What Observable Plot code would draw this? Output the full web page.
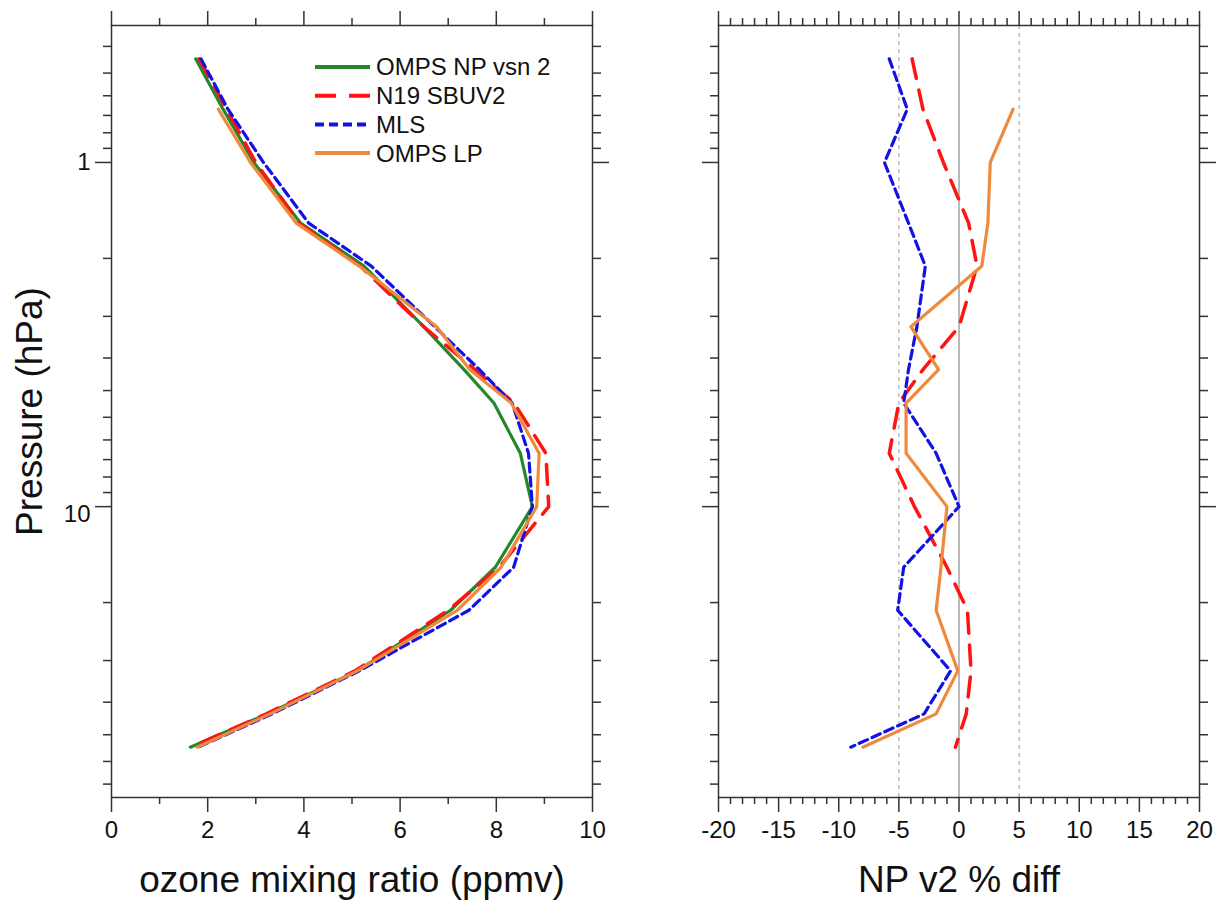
<!DOCTYPE html>
<html>
<head>
<meta charset="utf-8">
<script src="https://cdn.jsdelivr.net/npm/d3@7"></script>
<script src="https://cdn.jsdelivr.net/npm/@observablehq/plot@0.6"></script>
<style>
  html, body { margin: 0; padding: 0; background: #fff; }
  #chart { position: relative; width: 1229px; height: 915px; font-family: "Liberation Sans", Arial, sans-serif; }
  #chart svg { position: absolute; top: 0; overflow: visible; }
</style>
</head>
<body>
<div id="chart"></div>
<script>
// Pressure levels (hPa) of the profiles
const levels = [0.5, 0.7, 1, 1.5, 2, 3, 4, 5, 7, 10, 15, 20, 30, 40, 50];
const lpLevels = [0.7, 1, 1.5, 2, 3, 4, 5, 7, 10, 15, 20, 30, 40, 50];

// Ozone mixing ratio profiles (ppmv)
const npV2 = [1.75, 2.32, 2.96, 3.93, 5.25, 6.49, 7.33, 7.95, 8.50, 8.75, 7.98, 7.05, 5.11, 3.24, 1.64];
const sbuv = [1.82, 2.39, 3.00, 3.90, 5.17, 6.49, 7.56, 8.37, 9.03, 9.09, 8.06, 7.00, 5.06, 3.22, 1.65];
const mls  = [1.86, 2.42, 3.16, 4.10, 5.40, 6.72, 7.65, 8.33, 8.67, 8.75, 8.36, 7.43, 5.15, 3.34, 1.80];
const lp   = [2.22, 2.89, 3.84, 5.15, 6.76, 7.45, 8.31, 8.89, 8.84, 8.10, 7.19, 5.11, 3.30, 1.78];

// NP v2 percent differences relative to each comparison profile
const sbuvDiff = [-3.9, -3.0, -1.3, 0.8, 1.5, 0.0, -3.0, -5.0, -5.8, -3.7, -1.0, 0.7, 1.0, 0.6, -0.3];
const mlsDiff  = [-5.8, -4.3, -6.2, -4.2, -2.8, -3.5, -4.2, -4.6, -1.9, 0.0, -4.6, -5.1, -0.7, -2.9, -9.0];
const lpDiff   = [4.5, 2.6, 2.4, 1.9, -4.0, -1.7, -4.4, -4.4, -1.0, -1.5, -1.9, -0.1, -1.9, -8.0];

// Axis ticks
const yMajor = [1, 10];
const yMinor = [0.46, 0.55, 0.64, 0.73, 0.82, 0.91, 1.9, 2.8, 3.7, 4.6, 5.5, 6.4, 7.3, 8.2, 9.1, 19, 28, 37, 46, 55, 64];
const ozMajor = [0, 2, 4, 6, 8, 10];
const ozMinor = [1, 3, 5, 7, 9];
const diffMajor = [-20, -15, -10, -5, 0, 5, 10, 15, 20];
const diffMinor = [-19, -18, -17, -16, -14, -13, -12, -11, -9, -8, -7, -6, -4, -3, -2, -1,
                   1, 2, 3, 4, 6, 7, 8, 9, 11, 12, 13, 14, 16, 17, 18, 19];
const diffRefs = [-5, 5];

const seriesNames = ["OMPS NP vsn 2", "N19 SBUV2", "MLS", "OMPS LP"];
const styles = {
  "OMPS NP vsn 2": {stroke: "#22882a", strokeWidth: 3.2, dash: null},
  "N19 SBUV2":     {stroke: "#ff1414", strokeWidth: 3.5, dash: "20,12"},
  "MLS":           {stroke: "#1212e6", strokeWidth: 3.2, dash: "9,5"},
  "OMPS LP":       {stroke: "#ef8a3c", strokeWidth: 3.2, dash: null}
};

const rows = (ps, vs) => ps.map((p, i) => ({p, v: vs[i]}));
const profiles = {
  "OMPS NP vsn 2": rows(levels, npV2),
  "N19 SBUV2": rows(levels, sbuv),
  "MLS": rows(levels, mls),
  "OMPS LP": rows(lpLevels, lp)
};
const diffs = {
  "N19 SBUV2": rows(levels, sbuvDiff),
  "MLS": rows(levels, mlsDiff),
  "OMPS LP": rows(lpLevels, lpDiff)
};

const ink = "#333";
const font = "\"Liberation Sans\", Arial, sans-serif";

function lineMark(data, name) {
  const s = styles[name];
  return Plot.line(data, {x: "v", y: "p", stroke: s.stroke, strokeWidth: s.strokeWidth,
    strokeDasharray: s.dash ?? undefined, strokeLinejoin: "round"});
}

// Frame ticks on all four sides, pointing outward
function frameTicks(xMajor, xMinor) {
  const common = {stroke: ink, strokeWidth: 1.5, fill: "none", label: null};
  return [
    Plot.axisX(xMajor, {...common, anchor: "bottom", tickSize: 15}),
    Plot.axisX(xMinor, {...common, anchor: "bottom", tickSize: 7}),
    Plot.axisX(xMajor, {...common, anchor: "top", tickSize: 15}),
    Plot.axisX(xMinor, {...common, anchor: "top", tickSize: 8}),
    Plot.axisY(yMajor, {...common, anchor: "left", tickSize: 16}),
    Plot.axisY(yMinor, {...common, anchor: "left", tickSize: 8}),
    Plot.axisY(yMajor, {...common, anchor: "right", tickSize: 16}),
    Plot.axisY(yMinor, {...common, anchor: "right", tickSize: 8})
  ];
}

const yScale = {type: "log", domain: [0.4, 70], reverse: true};
const baseStyle = {fontFamily: font, color: ink, background: "transparent", overflow: "visible"};

// Left panel: ozone profiles
const left = Plot.plot({
  width: 615, height: 915,
  marginLeft: 111, marginRight: 23, marginTop: 25, marginBottom: 118,
  style: baseStyle,
  x: {domain: [0, 10]},
  y: yScale,
  marks: [
    ...seriesNames.map(n => lineMark(profiles[n], n)),
    Plot.frame({stroke: ink, strokeWidth: 1.5}),
    ...frameTicks(ozMajor, ozMinor),
    Plot.text(ozMajor, {x: d => d, text: d => String(d), frameAnchor: "bottom", dy: 40, fontSize: 24, fill: "#111"}),
    Plot.text([1], {y: d => d, text: d => String(d), frameAnchor: "left", dx: -21, textAnchor: "end", fontSize: 24, fill: "#111"}),
    Plot.text([10], {y: d => d, text: d => String(d), frameAnchor: "left", dx: -21, dy: 8, textAnchor: "end", fontSize: 24, fill: "#111"}),
    Plot.text(["ozone mixing ratio (ppmv)"], {frameAnchor: "bottom", dy: 94, fontSize: 37, fill: "#111"}),
    Plot.text(["Pressure (hPa)"], {frameAnchor: "left", dx: -81, rotate: -90, textAnchor: "middle", fontSize: 37, fill: "#111"})
  ]
});

// Right panel: percent differences
const right = Plot.plot({
  width: 614, height: 915,
  marginLeft: 103, marginRight: 30, marginTop: 25, marginBottom: 118,
  style: baseStyle,
  x: {domain: [-20, 20]},
  y: yScale,
  marks: [
    Plot.ruleX(diffRefs, {x: d => d, stroke: "#999", strokeWidth: 1, strokeDasharray: "4,4"}),
    Plot.ruleX([0], {x: d => d, stroke: "#8a8a8a", strokeWidth: 1.2}),
    ...["N19 SBUV2", "MLS", "OMPS LP"].map(n => lineMark(diffs[n], n)),
    Plot.frame({stroke: ink, strokeWidth: 1.5}),
    ...frameTicks(diffMajor, diffMinor),
    Plot.text(diffMajor, {x: d => d, text: d => String(d), frameAnchor: "bottom", dy: 40, fontSize: 24, fill: "#111"}),
    Plot.text(["NP v2 % diff"], {frameAnchor: "bottom", dy: 94, fontSize: 37, fill: "#111"})
  ]
});

const chart = document.getElementById("chart");
left.style.left = "0px";
right.style.left = "615px";
chart.append(left, right);

// Legend inside the left panel
const legend = d3.select(left).append("g")
  .attr("transform", "translate(315,67)")
  .attr("font-family", font)
  .attr("font-size", 24)
  .attr("text-anchor", "start")
  .attr("fill", "#111");
seriesNames.forEach((name, i) => {
  const s = styles[name];
  const g = legend.append("g").attr("transform", `translate(0,${i * 28.7})`);
  g.append("line")
    .attr("x1", 0).attr("x2", 55).attr("y1", 0).attr("y2", 0)
    .attr("stroke", s.stroke).attr("stroke-width", 4)
    .attr("stroke-dasharray", name === "N19 SBUV2" ? "21,13" : name === "MLS" ? "9,5" : null);
  g.append("text").attr("x", 61).attr("dy", "0.35em").text(name);
});
</script>
</body>
</html>
